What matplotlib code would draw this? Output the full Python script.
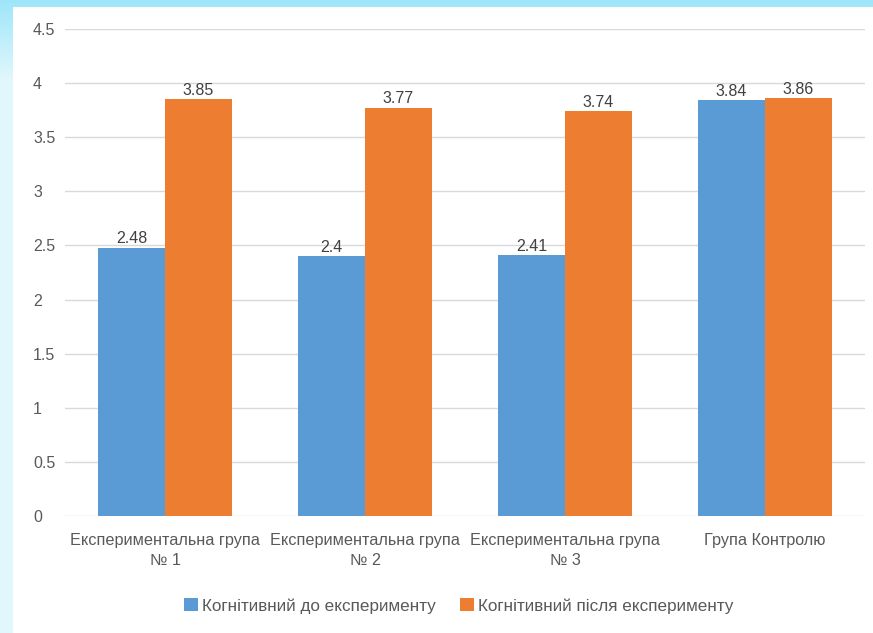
import matplotlib
matplotlib.use("Agg")
import matplotlib.pyplot as plt
import numpy as np
from matplotlib.patches import Rectangle

categories = ["Експериментальна група\n№ 1", "Експериментальна група\n№ 2",
              "Експериментальна група\n№ 3", "Група Контролю"]
before = [2.48, 2.4, 2.41, 3.84]
after = [3.85, 3.77, 3.74, 3.86]
series_names = ["Когнітивний до експерименту", "Когнітивний після експерименту"]
yticks = [0, 0.5, 1, 1.5, 2, 2.5, 3, 3.5, 4, 4.5]
ytick_labels = ["0", "0.5", "1", "1.5", "2", "2.5", "3", "3.5", "4", "4.5"]

plt.rcParams['font.family'] = ['Liberation Sans', 'DejaVu Sans']
W, H = 873, 633
fig = plt.figure(figsize=(W/100, H/100), dpi=100)
fig.patch.set_facecolor('#e3f7fd')

# gradient background
bg = fig.add_axes([0, 0, 1, 1], zorder=-10)
yy = np.linspace(0, 1, H)[:, None]
c_top = np.array([0.62, 0.90, 0.98])
c_light = np.array([0.88, 0.97, 0.99])
t = np.clip(1 - yy*8, 0, 1)
grad = c_light[None, None, :] * (1 - t[..., None]) + c_top[None, None, :] * t[..., None]
grad = np.broadcast_to(grad, (H, W, 3)).copy()
bg.imshow(grad, aspect='auto', extent=[0, 1, 0, 1], origin='upper')
bg.add_patch(Rectangle((13/W, 0), 1, (H-7)/H, facecolor='white', edgecolor='none',
                       transform=bg.transAxes))
bg.set_xlim(0, 1); bg.set_ylim(0, 1)
bg.axis('off')

ax = fig.add_axes([65/W, (H-516)/H, 800/W, (516-29)/H])
ax.set_facecolor('none')
x = np.arange(len(categories))
w = 0.335
b1 = ax.bar(x - w/2, before, w, color='#5B9BD5', label=series_names[0], zorder=3)
b2 = ax.bar(x + w/2, after, w, color='#ED7D31', label=series_names[1], zorder=3)
for bars, vals in ((b1, before), (b2, after)):
    for r, v in zip(bars, vals):
        ax.text(r.get_x() + r.get_width()/2, v + 0.015, f"{v:g}", ha='center', va='bottom',
                fontsize=11.5, color='#404040')

ax.set_xlim(-0.5, 3.5)
ax.set_ylim(0, 4.5)
ax.set_yticks(yticks)
ax.set_yticklabels(ytick_labels, ha='left')
ax.yaxis.grid(True, color='#d9d9d9', linewidth=1, zorder=0)
ax.set_xticks(x)
ax.set_xticklabels(categories, fontsize=11.7, color='#595959', linespacing=1.45)
ax.tick_params(axis='y', length=0, labelsize=11.5, labelcolor='#595959', pad=23)
ax.tick_params(axis='x', length=0, pad=12)
for s in ax.spines.values():
    s.set_visible(False)

fig.legend(handles=[b1, b2], labels=series_names, loc='center', ncol=2,
           bbox_to_anchor=(459/W, (H-606)/H), frameon=False, fontsize=12.3,
           handlelength=0.8, handleheight=0.8, handletextpad=0.25, columnspacing=1.4,
           labelcolor='#595959')

fig.savefig("out.png", dpi=100)
